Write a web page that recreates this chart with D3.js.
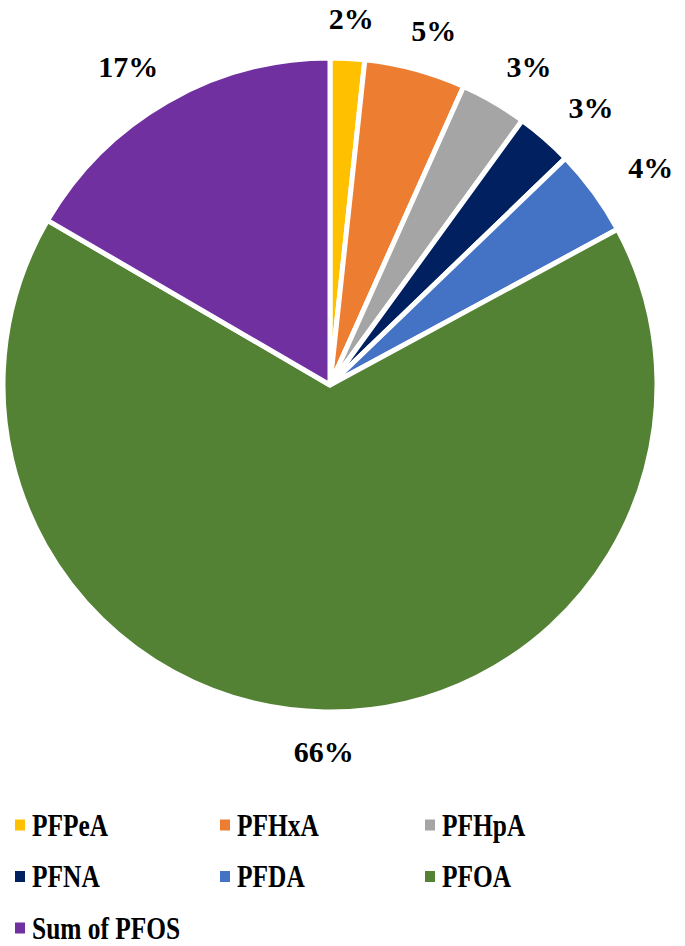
<!doctype html>
<html>
<head>
<script src="https://cdnjs.cloudflare.com/ajax/libs/d3/7.8.5/d3.min.js"></script>
<style>
  body { margin: 0; background: #fff; }
  svg text { font-family: "Liberation Serif", "Times New Roman", serif; font-weight: bold; fill: #000; }
</style>
</head>
<body>
<svg id="chart" width="685" height="946"></svg>
<script>
// compound shares (%)
var categories = ["PFPeA", "PFHxA", "PFHpA", "PFNA", "PFDA", "PFOA", "Sum of PFOS"];
var shares = [1.7, 5.0, 3.3, 2.8, 4.3, 66.3, 16.6];
var colors = ["#FFC000", "#ED7D31", "#A5A5A5", "#002060", "#4472C4", "#548235", "#7030A0"];

var cx = 330, cy = 385, radius = 327;
var serif = "'Liberation Serif', 'Times New Roman', serif";

var svg = d3.select("#chart");

var data = categories.map(function(c, i) { return {name: c, value: shares[i], color: colors[i]}; });

var pie = d3.pie().sort(null).value(function(d) { return d.value; });
var arc = d3.arc().innerRadius(0).outerRadius(radius);

var g = svg.append("g").attr("transform", "translate(" + cx + "," + cy + ")");

var arcs = pie(data);

g.selectAll("path")
    .data(arcs)
    .enter().append("path")
    .attr("d", arc)
    .attr("fill", function(d) { return d.data.color; })
    .attr("stroke", "#fff")
    .attr("stroke-width", 5)
    .attr("stroke-linejoin", "round");

// labels at the outside end of each slice
var labelR = 355;
g.selectAll("text.lbl")
    .data(arcs)
    .enter().append("text")
    .attr("class", "lbl")
    .attr("text-anchor", "middle")
    .attr("font-family", serif)
    .attr("font-weight", "bold")
    .attr("font-size", 30)
    .text(function(d) { return Math.round(d.data.value) + "%"; })
    .each(function(d) {
        var a = (d.startAngle + d.endAngle) / 2;
        var ux = Math.sin(a), uy = -Math.cos(a);
        var w = this.getComputedTextLength();
        var x = ux * (labelR + w / 2 + 20);
        var y = uy * (labelR + 12);
        d3.select(this).attr("x", x).attr("y", y + 10);
    });

// legend
var legendX = d3.scaleOrdinal().domain([0, 1, 2]).range([15, 220, 425]);
var legendY = d3.scaleLinear().domain([0, 1]).range([825, 876.5]);

var item = svg.selectAll("g.legend")
    .data(data)
    .enter().append("g")
    .attr("class", "legend")
    .attr("transform", function(d, i) {
        return "translate(" + legendX(i % 3) + "," + legendY(Math.floor(i / 3)) + ")";
    });

item.append("rect")
    .attr("x", 0).attr("y", -5.5)
    .attr("width", 10).attr("height", 11)
    .attr("fill", function(d) { return d.color; });

item.append("text")
    .attr("transform", "translate(17,10.5) scale(0.82,1)")
    .attr("font-family", serif)
    .attr("font-weight", "bold")
    .attr("font-size", 31)
    .text(function(d) { return d.name; });
</script>
</body>
</html>
